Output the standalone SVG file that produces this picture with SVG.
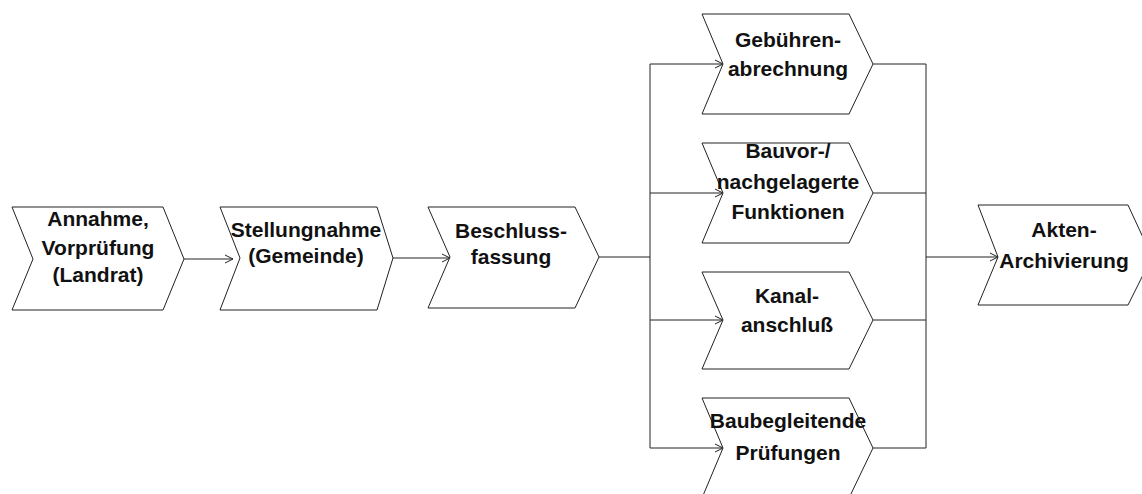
<svg xmlns="http://www.w3.org/2000/svg" width="1142" height="494" viewBox="0 0 1142 494">
<style>
.n{fill:#fff;stroke:#222;stroke-width:1}
.c{fill:none;stroke:#222;stroke-width:1}
text{font-family:"Liberation Sans",Arial,sans-serif;font-weight:bold;font-size:21px;fill:#111;text-anchor:middle}
</style>
<defs>
<marker id="a" markerWidth="10" markerHeight="10" refX="9" refY="5" orient="auto" markerUnits="userSpaceOnUse">
<path d="M1,1 L9,5 L1,9" fill="none" stroke="#222" stroke-width="1"/>
</marker>
</defs>
<rect width="1142" height="494" fill="#fff"/>
<g id="connectors">
<line class="c" x1="184" y1="259" x2="233" y2="259" marker-end="url(#a)"/>
<line class="c" x1="393" y1="258" x2="450" y2="258" marker-end="url(#a)"/>
<line class="c" x1="599" y1="257" x2="650" y2="257"/>
<line class="c" x1="650" y1="64" x2="650" y2="448"/>
<line class="c" x1="650" y1="64" x2="723" y2="64" marker-end="url(#a)"/>
<line class="c" x1="650" y1="193" x2="723" y2="193" marker-end="url(#a)"/>
<line class="c" x1="650" y1="320" x2="723" y2="320" marker-end="url(#a)"/>
<line class="c" x1="650" y1="448" x2="723" y2="448" marker-end="url(#a)"/>
<line class="c" x1="873" y1="64" x2="926" y2="64"/>
<line class="c" x1="873" y1="193" x2="926" y2="193"/>
<line class="c" x1="873" y1="320" x2="926" y2="320"/>
<line class="c" x1="873" y1="448" x2="926" y2="448"/>
<line class="c" x1="926" y1="64" x2="926" y2="448"/>
<line class="c" x1="926" y1="257" x2="998" y2="257" marker-end="url(#a)"/>
</g>
<g id="n1">
<path class="n" d="M12,207 L163,207 L184,259 L163,310 L12,310 L33,259 Z"/>
<text x="98" y="226">Annahme,</text>
<text x="98" y="255">Vorprüfung</text>
<text x="98" y="282">(Landrat)</text>
</g>
<g id="n2">
<path class="n" d="M220,207 L377,207 L393,258 L377,310 L220,310 L240,258 Z"/>
<text x="306" y="237">Stellungnahme</text>
<text x="306" y="263">(Gemeinde)</text>
</g>
<g id="n3">
<path class="n" d="M428,207 L575,207 L599,257 L575,308 L428,308 L450,257 Z"/>
<text x="511" y="238">Beschluss-</text>
<text x="511" y="264">fassung</text>
</g>
<g id="n4">
<path class="n" d="M702,14 L849,14 L873,64 L849,114 L702,114 L723,64 Z"/>
<text x="788" y="47">Gebühren-</text>
<text x="788" y="76">abrechnung</text>
</g>
<g id="n5">
<path class="n" d="M702,143 L849,143 L873,193 L849,243 L702,243 L723,193 Z"/>
<text x="788" y="158">Bauvor-/</text>
<text x="788" y="189">nachgelagerte</text>
<text x="788" y="219">Funktionen</text>
</g>
<g id="n6">
<path class="n" d="M702,272 L849,272 L873,320 L849,369 L702,369 L723,320 Z"/>
<text x="787" y="303">Kanal-</text>
<text x="787" y="332">anschluß</text>
</g>
<g id="n7">
<path class="n" d="M702,398 L849,398 L873,448 L849,498 L702,498 L723,448 Z"/>
<text x="788" y="428">Baubegleitende</text>
<text x="788" y="460">Prüfungen</text>
</g>
<g id="n8">
<path class="n" d="M978,205 L1128,205 L1152,257 L1128,305 L978,305 L998,257 Z"/>
<text x="1064" y="237">Akten-</text>
<text x="1064" y="268">Archivierung</text>
</g>
</svg>
